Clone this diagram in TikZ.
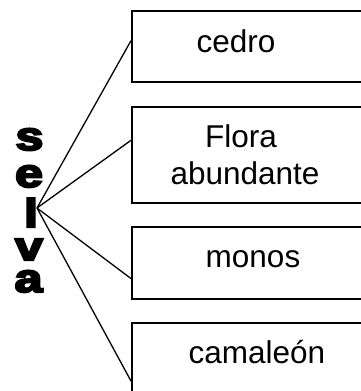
\documentclass[tikz,border=0pt]{standalone}
\usepackage{fontspec}
\setmainfont{Liberation Sans}
\newfontfamily\heavyfont[FakeBold=5]{Liberation Sans Bold}
\usetikzlibrary{calc}
\begin{document}
\begin{tikzpicture}[x=1pt,y=-1pt,
  boxnode/.style={draw,line width=2pt,rectangle,inner sep=0pt,anchor=north west},
  boxtext/.style={font=\fontsize{31.5}{37}\selectfont,anchor=base,inner sep=0pt},
  letter/.style={font=\heavyfont\fontsize{40}{40}\selectfont,anchor=base,inner sep=0pt,xscale=1.25,text height=22pt,text depth=0pt},
  link/.style={line width=1.3pt}]
\useasboundingbox (0,0) rectangle (361,391);
\node[boxnode,minimum width=240pt,minimum height=71pt] (b1) at (131,10) {};
\node[boxnode,minimum width=240pt,minimum height=96pt] (b2) at (131,106) {};
\node[boxnode,minimum width=240pt,minimum height=72pt] (b3) at (131,226) {};
\node[boxnode,minimum width=240pt,minimum height=80pt] (b4) at (131,322) {};
\node[boxtext] (t1) at (236,52) {cedro};
\node[boxtext] (t2a) at (241,147) {Flora};
\node[boxtext] (t2b) at (245,184) {abundante};
\node[boxtext] (t3) at (253,267) {monos};
\node[boxtext] (t4) at (257,363) {camaleón};
\node[letter] (s) at (29.5,150) {s};
\node[letter] (e) at (29,187) {e};
\node[letter,text height=27pt] (l) at (31,227) {l};
\node[letter] (v) at (29,260) {v};
\node[letter] (a) at (28.5,292) {a};
\coordinate (hub) at (37,208);
\draw[link] (hub) -- ($(b1.north west)!0.42!(b1.south west)$);
\draw[link] (hub) -- ($(b2.north west)!0.35!(b2.south west)$);
\draw[link] (hub) -- ($(b3.north west)!0.71!(b3.south west)$);
\draw[link] (hub) -- ($(b4.north west)!0.72!(b4.south west)$);
\end{tikzpicture}
\end{document}
